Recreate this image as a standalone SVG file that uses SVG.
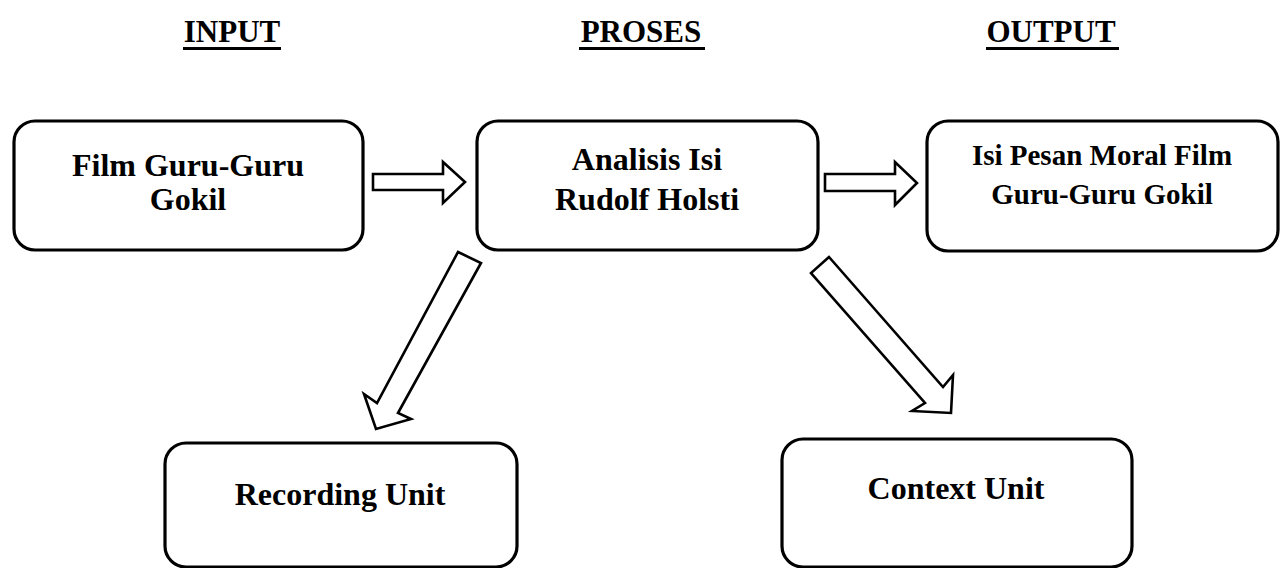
<svg xmlns="http://www.w3.org/2000/svg" width="1283" height="568" viewBox="0 0 1283 568">
<style>
.box{fill:#fff;stroke:#000;stroke-width:3.2}
.arr{fill:#fff;stroke:#000;stroke-width:2.6;stroke-linejoin:miter}
text{font-family:"Liberation Serif","Times New Roman",serif;font-weight:bold;fill:#000;text-anchor:middle}
.h{font-size:31px}
.t{font-size:32px}
.t2{font-size:29px}
</style>
<rect width="1283" height="568" fill="#fff"/>
<g id="headers">
<text class="h" x="232" y="42">INPUT</text>
<rect x="183" y="47" width="98" height="3"/>
<text class="h" x="641" y="42">PROSES</text>
<rect x="579" y="47" width="126" height="3"/>
<text class="h" x="1051" y="42">OUTPUT</text>
<rect x="986" y="47" width="133" height="3"/>
</g>
<g id="node-film">
<rect class="box" x="14" y="121" width="349" height="129" rx="21"/>
<text class="t" x="188" y="176">Film Guru-Guru</text>
<text class="t" x="188" y="210">Gokil</text>
</g>
<g id="node-analisis">
<rect class="box" x="477" y="121" width="341" height="129" rx="21"/>
<text class="t" x="647" y="170">Analisis Isi</text>
<text class="t" x="647" y="210">Rudolf Holsti</text>
</g>
<g id="node-output">
<rect class="box" x="927" y="121" width="351" height="130" rx="21"/>
<text class="t2" x="1102" y="165">Isi Pesan Moral Film</text>
<text class="t2" x="1102" y="204">Guru-Guru Gokil</text>
</g>
<g id="node-recording">
<rect class="box" x="165" y="443" width="352" height="124" rx="21"/>
<text class="t" x="340" y="505">Recording Unit</text>
</g>
<g id="node-context">
<rect class="box" x="782" y="439" width="350" height="128" rx="21"/>
<text class="t" x="956" y="499">Context Unit</text>
</g>
<g id="connectors">
<polygon class="arr" points="373,174 443,174 443,162 465,182 443,203 443,190 373,190"/>
<polygon class="arr" points="825,174 895,174 895,162 917,183 895,205 895,191 825,191"/>
<polygon class="arr" points="458,252 481,263 398,413 411,419 376,429 364,394 377,403"/>
<polygon class="arr" points="829,257 811,273 925,403 912,411 951,413 953,375 943,387"/>
</g>
</svg>
